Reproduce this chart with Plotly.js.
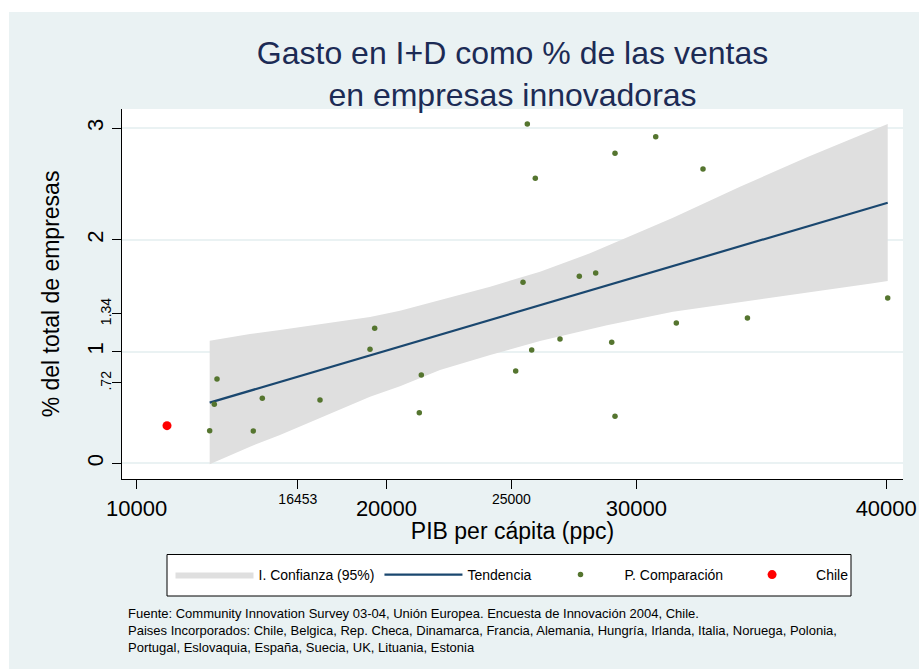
<!DOCTYPE html>
<html><head><meta charset="utf-8">
<script src="https://cdn.plot.ly/plotly-3.0.1.min.js"></script>
<style>html,body{margin:0;padding:0;background:#fff}</style>
</head><body><div id="chart" style="width:919px;height:669px"></div>
<script>
// Comparison countries: PIB per cápita (ppc) and % R&D spend
const compX = [12925, 13110, 13218, 14671, 15031, 17340, 19341, 19528, 21314, 21394,
               25171, 25464, 25636, 25812, 25956, 26944, 27717, 28373, 29014, 29146,
               29146, 30775, 31599, 32667, 34446, 40059];
const compY = [0.292, 0.528, 0.755, 0.289, 0.582, 0.567, 1.021, 1.209, 0.453, 0.791,
               0.826, 1.620, 3.038, 1.014, 2.551, 1.113, 1.674, 1.704, 1.083, 2.775,
               0.421, 2.924, 1.256, 2.635, 1.301, 1.480];
const chileX = [11217];
const chileY = [0.337];
// Trend (fitted line)
const trendX = [12925, 40059];
const trendY = [0.543, 2.333];
// 95% confidence band
const bandX     = [12925, 14538, 15739, 19341, 20541, 22142, 24150, 26144, 28144, 28825, 31466, 34147, 36829, 39470, 40059];
const bandUpper = [1.098, 1.158, 1.193, 1.310, 1.365, 1.462, 1.581, 1.715, 1.880, 1.946, 2.199, 2.476, 2.740, 2.984, 3.038];
const bandLower = [-0.009, 0.149, 0.253, 0.596, 0.690, 0.835, 0.970, 1.095, 1.200, 1.235, 1.357, 1.441, 1.522, 1.611, 1.632];
// Tick marks
const xMajorTicks = [10000, 20000, 30000, 40000];
const xMinorTicks = [16453, 25000];
const yMajorTicks = [0, 1, 2, 3];
const yMinorTicks = [0.72, 1.34];
const yMinorLabels = ['.72', '1.34'];
// Texts
const titleText = 'Gasto en I+D como % de las ventas<br>en empresas innovadoras';
const noteLines = [
  'Fuente: Community Innovation Survey 03-04, Unión Europea. Encuesta de Innovación 2004, Chile.',
  'Paises Incorporados: Chile, Belgica, Rep. Checa, Dinamarca, Francia, Alemania, Hungría, Irlanda, Italia, Noruega, Polonia,',
  'Portugal, Eslovaquia, España, Suecia, UK, Lituania, Estonia'
];

const FONT = 'Arial, "Liberation Sans", Helvetica, sans-serif';

// plot area geometry (px)
const L = 122, R = 903, T = 109, B = 479;
const PW = R - L, PH = B - T;
const px = v => (v - L) / PW;
const py = v => (B - v) / PH;

const traces = [
  {x: bandX, y: bandLower, type: 'scatter', mode: 'lines', line: {width: 0, color: 'rgba(0,0,0,0)'},
   showlegend: false, hoverinfo: 'skip'},
  {x: bandX, y: bandUpper, type: 'scatter', mode: 'lines', fill: 'tonexty', fillcolor: '#DFDFDF',
   line: {width: 0, color: 'rgba(0,0,0,0)'}, name: 'I. Confianza (95%)'},
  {x: trendX, y: trendY, type: 'scatter', mode: 'lines', line: {color: '#1A476F', width: 2.2},
   name: 'Tendencia'},
  {x: compX, y: compY, type: 'scatter', mode: 'markers', marker: {color: '#55752F', size: 5.5},
   name: 'P. Comparación'},
  {x: chileX, y: chileY, type: 'scatter', mode: 'markers', marker: {color: '#FF0000', size: 9},
   name: 'Chile'},
  {x: xMinorTicks, y: yMinorTicks, xaxis: 'x2', yaxis: 'y2', type: 'scatter', mode: 'markers',
   marker: {opacity: 0}, showlegend: false, hoverinfo: 'skip'}
];

const xr = [9416, 40671];
const yr = [-0.1406, 3.172];

const layout = {
  width: 919, height: 669,
  margin: {l: L, r: 919 - R, t: T, b: 669 - B, pad: 0},
  paper_bgcolor: '#FFFFFF',
  plot_bgcolor: '#FFFFFF',
  font: {family: FONT, color: '#000000'},
  title: {
    text: titleText,
    font: {family: FONT, size: 32, color: '#1C2B55'},
    x: 0.5, xref: 'paper', xanchor: 'center',
    y: 1 - 64 / 669, yref: 'container', yanchor: 'middle'
  },
  xaxis: {
    range: xr, tickvals: xMajorTicks, ticktext: xMajorTicks.map(String),
    ticks: 'outside', ticklen: 9, tickcolor: '#000', tickwidth: 1,
    showline: true, linecolor: '#000', linewidth: 1, showgrid: false, zeroline: false,
    tickfont: {size: 22, family: FONT}, ticklabelstandoff: 1,
    automargin: false, fixedrange: true
  },
  xaxis2: {
    range: xr, overlaying: 'x', anchor: 'y', side: 'bottom',
    tickvals: xMinorTicks, ticktext: xMinorTicks.map(String),
    ticks: 'outside', ticklen: 9, tickcolor: '#000', tickwidth: 1,
    showline: false, showgrid: false, zeroline: false,
    tickfont: {size: 14, family: FONT}, ticklabelstandoff: -2,
    title: {text: 'PIB per cápita (ppc)', font: {size: 23, family: FONT}, standoff: 17},
    automargin: false, fixedrange: true
  },
  yaxis: {
    range: yr, tickvals: yMajorTicks, ticktext: yMajorTicks.map(String), tickangle: -90,
    ticks: 'outside', ticklen: 9, tickcolor: '#000', tickwidth: 1,
    showline: true, linecolor: '#000', linewidth: 1,
    showgrid: true, gridcolor: '#EAF2F3', gridwidth: 2, zeroline: false,
    tickfont: {size: 22, family: FONT}, ticklabelstandoff: 0,
    title: {text: '% del total de empresas', font: {size: 23, family: FONT}, standoff: 17},
    automargin: false, fixedrange: true
  },
  yaxis2: {
    range: yr, overlaying: 'y', anchor: 'x', side: 'left',
    tickvals: yMinorTicks, ticktext: yMinorLabels, tickangle: -90,
    ticks: 'outside', ticklen: 9, tickcolor: '#000', tickwidth: 1,
    showline: false, showgrid: false, zeroline: false,
    tickfont: {size: 14, family: FONT}, ticklabelstandoff: -5,
    automargin: false, fixedrange: true
  },
  showlegend: true,
  legend: {
    orientation: 'h', traceorder: 'normal',
    x: px(512), xanchor: 'center', y: py(575), yanchor: 'middle',
    bgcolor: 'rgba(0,0,0,0)', borderwidth: 0,
    font: {size: 14, family: FONT}, itemwidth: 78
  },
  shapes: [
    {type: 'rect', xref: 'paper', yref: 'paper', layer: 'below',
     x0: px(9), x1: px(919), y0: py(669), y1: py(12),
     fillcolor: '#EAF2F3', line: {width: 0}},
    {type: 'rect', xref: 'paper', yref: 'paper', layer: 'below',
     x0: 0, x1: 1, y0: 0, y1: 1, fillcolor: '#FFFFFF', line: {width: 0}},
    {type: 'rect', xref: 'paper', yref: 'paper', layer: 'below',
     x0: px(167), x1: px(851), y0: py(596), y1: py(554.5),
     fillcolor: '#FFFFFF', line: {width: 1, color: '#000000'}}
  ],
  annotations: [{
    xref: 'paper', yref: 'paper', x: px(126), y: py(630), xanchor: 'left', yanchor: 'middle',
    align: 'left', showarrow: false,
    font: {size: 13, family: FONT, color: '#000'}, text: noteLines.join('<br>')
  }],
  hovermode: false
};

Plotly.newPlot('chart', traces, layout, {displayModeBar: false, staticPlot: true});
</script>
</body></html>
